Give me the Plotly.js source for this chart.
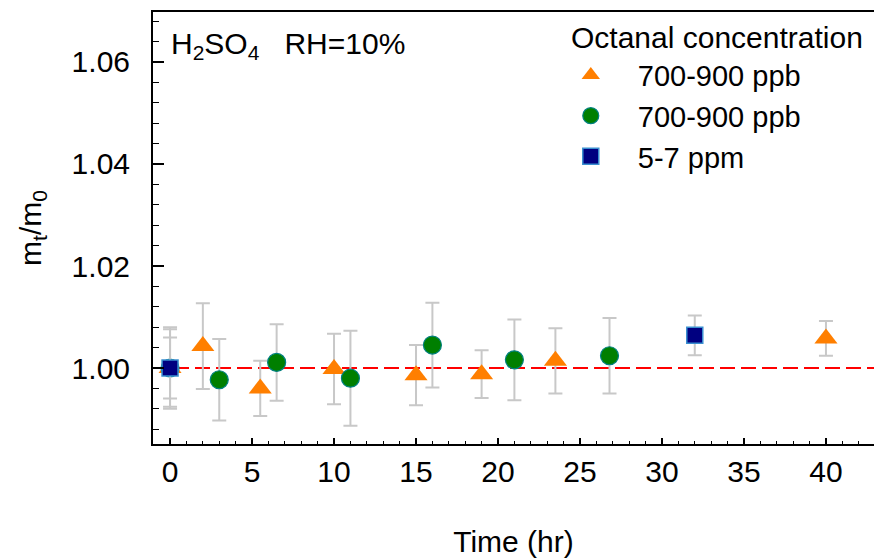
<!DOCTYPE html>
<html>
<head>
<meta charset="utf-8">
<script src="https://cdn.plot.ly/plotly-3.0.1.min.js"></script>
<style>html,body{margin:0;padding:0;background:#fff;}#chart{width:874px;height:558px;}</style>
</head>
<body>
<div id="chart"></div>
<script>
// Time (hr) and m_t/m_0 values
var triTime = [0, 2, 5.5, 10, 15, 19, 23.5, 40];
var triVal  = [1.000, 1.0043, 0.9960, 0.9998, 0.9986, 0.9988, 1.0014, 1.0058];
var triErr  = [0.0060, 0.0084, 0.0054, 0.0069, 0.0059, 0.0047, 0.0064, 0.0034];

var cirTime = [0, 3, 6.5, 11, 16, 21, 26.8];
var cirVal  = [1.000, 0.9977, 1.0011, 0.9980, 1.0045, 1.0016, 1.0024];
var cirErr  = [0.0076, 0.0080, 0.0075, 0.0093, 0.0083, 0.0079, 0.0074];

var sqTime = [0, 32];
var sqVal  = [1.000, 1.0064];
var sqErr  = [0.0080, 0.0039];

var seriesNames = ['700-900 ppb', '700-900 ppb', '5-7 ppm'];
var legendTitle = 'Octanal concentration';
var xTitle = 'Time (hr)';
var yTitle = 'm<sub>t</sub>/m<sub>0</sub>';
var labelText = 'H<sub>2</sub>SO<sub>4</sub>   RH=10%';
var refLevel = 1.0;

var FONT = 'Liberation Sans, Arial, sans-serif';
var errStyle = function(arr){ return {type:'data', array:arr, visible:true, color:'#c8c8c8', thickness:2, width:7}; };

var traces = [
  {x: triTime, y: triVal, error_y: errStyle(triErr), mode:'markers', type:'scatter', name: seriesNames[0],
   marker:{symbol:'triangle-up', size:20, color:'#ff7f00', line:{width:0}}},
  {x: cirTime, y: cirVal, error_y: errStyle(cirErr), mode:'markers', type:'scatter', name: seriesNames[1],
   marker:{symbol:'circle', size:18, color:'#007f00', line:{width:1.2, color:'#00807f'}}},
  {x: sqTime, y: sqVal, error_y: errStyle(sqErr), mode:'markers', type:'scatter', name: seriesNames[2],
   marker:{symbol:'square', size:16, color:'#000080', line:{width:1.5, color:'#3a8fd0'}}}
];

var layout = {
  width: 874, height: 558,
  margin: {l:153, r:0, t:12, b:114},
  paper_bgcolor:'#fff', plot_bgcolor:'#fff',
  font: {family: FONT, size: 30, color:'#000'},
  showlegend: true,
  legend: {x:0.542, y:0.913, xanchor:'left', yanchor:'top', bgcolor:'rgba(0,0,0,0)',
    font:{size:29}, itemwidth:84},
  xaxis: {range:[-1.04, 42.93], showgrid:false, zeroline:false, showline:true, linecolor:'#000', linewidth:2,
    mirror:true, ticks:'inside', ticklen:6, tickwidth:1.5, tickcolor:'#000', dtick:5, tick0:0,
    minor:{ticks:'inside', ticklen:3, dtick:1, tickcolor:'#000', tickwidth:1.2},
    tickfont:{size:30},
    title:{text:xTitle, font:{size:30}, standoff: 44}},
  yaxis: {range:[0.9851, 1.0698], showgrid:false, zeroline:false, showline:true, linecolor:'#000', linewidth:2,
    ticks:'inside', ticklen:11, tickwidth:1.5, tickcolor:'#000', dtick:0.02, tick0:1.0, tickformat:'.2f',
    minor:{ticks:'inside', ticklen:6, dtick:0.004, tickcolor:'#000', tickwidth:1.2},
    tickfont:{size:30}, ticklabelstandoff: 15,
    title:{text:yTitle, font:{size:30}, standoff: 21}},
  shapes: [{type:'line', xref:'paper', x0:0, x1:1, yref:'y', y0:refLevel, y1:refLevel,
    line:{color:'#ff0000', width:2, dash:'15px,6px'}, layer:'below'}],
  annotations: [
    {xref:'paper', yref:'paper', x:0.022, y:0.969, xanchor:'left', yanchor:'top', showarrow:false,
     text: labelText, font:{size:30}},
    {xref:'paper', yref:'paper', x:0.577, y:0.983, xanchor:'left', yanchor:'top', showarrow:false,
     text: legendTitle, font:{size:30}}
  ]
};

Plotly.newPlot('chart', traces, layout, {staticPlot:true, displayModeBar:false});
</script>
</body>
</html>
